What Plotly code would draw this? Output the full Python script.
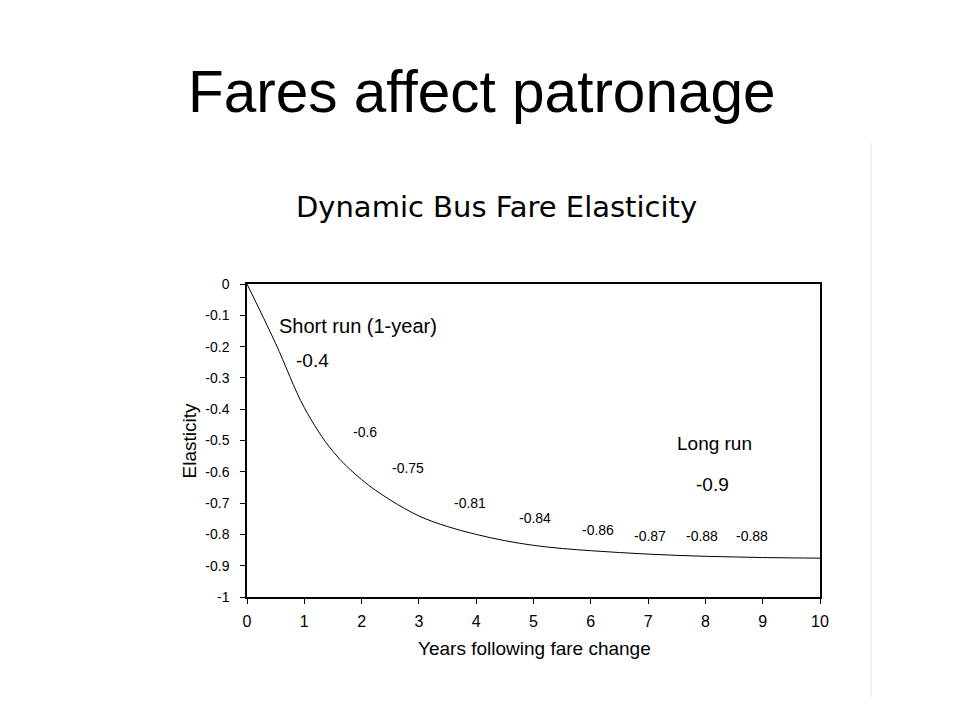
import plotly.graph_objects as go

# Data
years = [0, 0.5, 1, 1.5, 2, 2.5, 3, 3.5, 4, 4.5, 5, 5.5, 6, 6.5, 7, 7.5, 8, 8.5, 9, 9.5, 10]
elasticity = [0, -0.19, -0.395, -0.535, -0.625, -0.69, -0.741, -0.775, -0.80, -0.82, -0.835,
              -0.845, -0.852, -0.858, -0.863, -0.867, -0.870, -0.872, -0.874, -0.875, -0.876]

yearly_labels = ["-0.6", "-0.75", "-0.81", "-0.84", "-0.86", "-0.87", "-0.88", "-0.88"]
short_run_label = "Short run (1-year)"
short_run_value = "-0.4"
long_run_label = "Long run"
long_run_value = "-0.9"

x_ticks = list(range(0, 11))
y_ticks = [0, -0.1, -0.2, -0.3, -0.4, -0.5, -0.6, -0.7, -0.8, -0.9, -1]
y_tick_text = ["0", "-0.1", "-0.2", "-0.3", "-0.4", "-0.5", "-0.6", "-0.7", "-0.8", "-0.9", "-1"]

# Positions (layout only)
yearly_pos = [(2.06, -0.473), (2.81, -0.588), (3.89, -0.70), (5.03, -0.748),
              (6.13, -0.786), (7.03, -0.805), (7.94, -0.805), (8.81, -0.805)]

FONT = "Liberation Sans, Arial"

fig = go.Figure()
fig.add_trace(go.Scatter(x=years, y=elasticity, mode="lines", line_shape="spline",
                         line=dict(color="black", width=1), hoverinfo="skip", showlegend=False))

def note(x, y, text, size, ref="data", family=FONT, angle=0):
    return dict(x=x, y=y, xref="x" if ref == "data" else "paper",
                yref="y" if ref == "data" else "paper", text=text, showarrow=False,
                xanchor="center", yanchor="middle", textangle=angle,
                font=dict(family=family, size=size, color="black"))

ann = []
for txt, (px, py) in zip(yearly_labels, yearly_pos):
    ann.append(note(px, py, txt, 14))
ann.append(note(1.94, -0.134, short_run_label, 20))
ann.append(note(1.15, -0.243, short_run_value, 19))
ann.append(note(8.15, -0.508, long_run_label, 19))
ann.append(note(8.13, -0.642, long_run_value, 19))
# Titles
ann.append(note(0.41, 1.615, "Fares affect patronage", 58.5, ref="paper"))
ann.append(note(0.436, 1.246, "Dynamic Bus Fare Elasticity", 29, ref="paper", family="DejaVu Sans"))
ann.append(note(0.501, -0.163, "Years following fare change", 19, ref="paper"))
ann.append(note(-0.0995, 0.5, "Elasticity", 19, ref="paper", angle=-90))

fig.update_layout(
    width=960, height=720,
    margin=dict(l=239, r=148, t=276, b=131),
    paper_bgcolor="white", plot_bgcolor="white",
    annotations=ann,
    shapes=[dict(type="line", xref="paper", yref="paper", x0=1.089, x1=1.089, y0=-0.319, y1=1.45,
                 line=dict(color="#e2e2e2", width=1))],
)
fig.update_xaxes(range=[0, 10], tickvals=x_ticks, ticks="outside", ticklen=5, tickcolor="black",
                 showline=True, linecolor="black", linewidth=1.5, mirror=True, showgrid=False,
                 zeroline=False, ticklabelstandoff=4,
                 tickfont=dict(family=FONT, size=16, color="black"))
fig.update_yaxes(range=[-1, 0], tickvals=y_ticks, ticktext=y_tick_text, ticks="outside", ticklen=5,
                 tickcolor="black", showline=True, linecolor="black", linewidth=1.5, mirror=True,
                 showgrid=False, zeroline=False, ticklabelstandoff=8,
                 tickfont=dict(family=FONT, size=14, color="black"))

fig.write_html("out.html")
